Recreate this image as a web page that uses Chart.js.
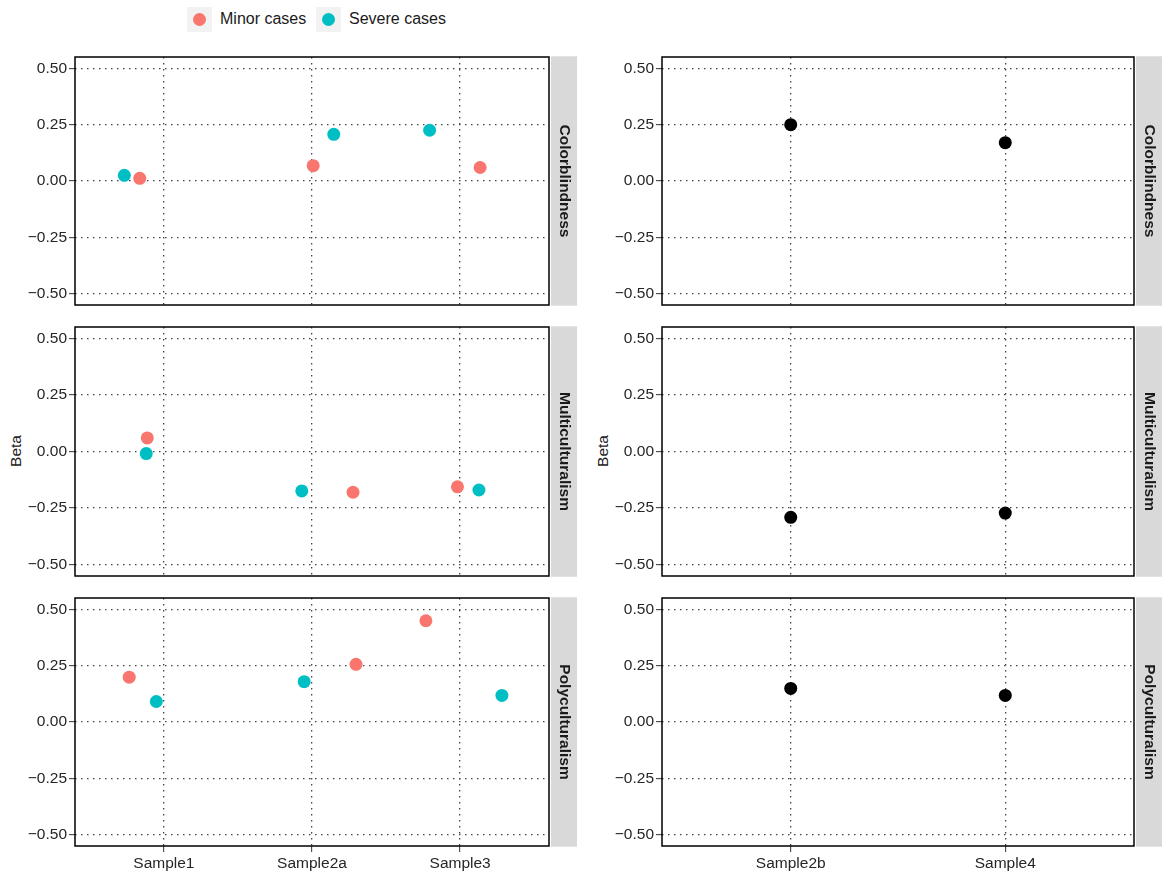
<!DOCTYPE html>
<html>
<head>
<meta charset="utf-8">
<script src="https://cdn.jsdelivr.net/npm/chart.js@4.4.0/dist/chart.umd.min.js"></script>
<style>
  body { margin: 0; background: #fff; }
  #page { position: relative; width: 1169px; height: 875px; overflow: hidden; font-family: "Liberation Sans", Arial, sans-serif; color: #1a1a1a; }
  #page canvas { position: absolute; }
  .key { position: absolute; top: 7px; width: 25px; height: 25px; background: #f2f2f2; }
  .key span { position: absolute; left: 6px; top: 6px; width: 13px; height: 13px; border-radius: 50%; }
  .key-text { position: absolute; top: 9px; font-size: 16px; line-height: 20px; white-space: nowrap; }
  .ytitle { position: absolute; font-size: 15.5px; transform: translate(-50%, -50%) rotate(-90deg); white-space: nowrap; }
</style>
</head>
<body>
<div id="page">
  <div class="key" style="left:187px"><span style="background:#F8766D"></span></div>
  <div class="key-text" style="left:220px">Minor cases</div>
  <div class="key" style="left:316px"><span style="background:#00BFC4"></span></div>
  <div class="key-text" style="left:349px">Severe cases</div>
  <div class="ytitle" style="left:16px; top:451px">Beta</div>
  <div class="ytitle" style="left:603px; top:451px">Beta</div>
</div>
<script>
// facets and categories
const outcomes = ['Colorblindness', 'Multiculturalism', 'Polyculturalism'];
const leftSamples = ['Sample1', 'Sample2a', 'Sample3'];
const rightSamples = ['Sample2b', 'Sample4'];
const yTicks = [-0.5, -0.25, 0, 0.25, 0.5];

// left column: beta per sample, minor vs severe cases
const minorColorblindness = [0.012, 0.068, 0.06];
const severeColorblindness = [0.025, 0.207, 0.225];
const minorMulticulturalism = [0.06, -0.18, -0.156];
const severeMulticulturalism = [-0.009, -0.174, -0.17];
const minorPolyculturalism = [0.199, 0.256, 0.449];
const severePolyculturalism = [0.091, 0.179, 0.118];

// horizontal jitter of each point, in category units
const minorJitterColorblindness = [-0.163, 0.008, 0.135];
const severeJitterColorblindness = [-0.267, 0.147, -0.206];
const minorJitterMulticulturalism = [-0.112, 0.277, -0.018];
const severeJitterMulticulturalism = [-0.119, -0.069, 0.127];
const minorJitterPolyculturalism = [-0.234, 0.297, -0.231];
const severeJitterPolyculturalism = [-0.051, -0.053, 0.282];

// right column: beta per sample
const pooledColorblindness = [0.25, 0.17];
const pooledMulticulturalism = [-0.291, -0.272];
const pooledPolyculturalism = [0.149, 0.118];

const MINOR = '#F8766D';
const SEVERE = '#00BFC4';
const FONT = '"Liberation Sans", Arial, sans-serif';
Chart.defaults.font.family = FONT;

// 面板边框 + 右侧分面标签
const facetStrip = {
  id: 'facetStrip',
  afterDraw(chart, args, opts) {
    const { ctx, chartArea: a } = chart;
    ctx.save();
    ctx.fillStyle = '#d9d9d9';
    ctx.fillRect(a.right + 2, a.top - 0.75, 26, a.bottom - a.top + 1.5);
    ctx.strokeStyle = '#000';
    ctx.lineWidth = 1.5;
    ctx.strokeRect(a.left, a.top, a.right - a.left, a.bottom - a.top);
    ctx.translate(a.right + 15, (a.top + a.bottom) / 2);
    ctx.rotate(Math.PI / 2);
    ctx.fillStyle = '#1a1a1a';
    ctx.font = 'bold 15.5px ' + FONT;
    ctx.textAlign = 'center';
    ctx.textBaseline = 'middle';
    ctx.fillText(opts.label, 0, 0);
    ctx.restore();
  },
};

function points(values, jitter) {
  return values.map((v, i) => ({ x: i + 1 + (jitter ? jitter[i] : 0), y: v }));
}

function fmt(v) {
  return v.toFixed(2).replace('-', '\u2212');
}

const gridBase = {
  color: '#444',
  lineWidth: 1.3,
  tickLength: 6,
  tickColor: '#333',
  tickWidth: 1,
  tickBorderDash: [],
};

function panel(cell) {
  const { boxLeft, boxRight, top, bottom, samples, datasets, label, isBottom } = cell;
  const padTop = 16;
  const axisH = isBottom ? 28 : 0;
  const padBottom = isBottom ? 0 : 16;
  const canvas = document.createElement('canvas');
  const left = boxLeft - 75;
  canvas.width = boxRight + 32 - left;
  canvas.height = bottom - top + padTop + padBottom + axisH;
  canvas.style.left = left + 'px';
  canvas.style.top = top - padTop + 'px';
  document.getElementById('page').appendChild(canvas);

  new Chart(canvas, {
    type: 'scatter',
    data: { datasets },
    options: {
      responsive: false,
      animation: false,
      events: [],
      layout: { padding: { top: padTop, bottom: padBottom, left: 0, right: 32 } },
      plugins: { legend: { display: false }, tooltip: { enabled: false }, facetStrip: { label } },
      scales: {
        x: {
          type: 'linear',
          min: 0.4,
          max: samples.length + 0.6,
          afterBuildTicks: (s) => { s.ticks = samples.map((_, i) => ({ value: i + 1 })); },
          afterFit: (s) => { s.height = axisH; },
          grid: { ...gridBase, drawTicks: isBottom },
          border: { display: false, dash: [1.5, 4.5] },
          ticks: {
            display: isBottom,
            padding: 2,
            color: '#262626',
            font: { size: 15.5 },
            maxRotation: 0,
            autoSkip: false,
            callback: (v) => samples[Math.round(v) - 1],
          },
        },
        y: {
          min: -0.55,
          max: 0.55,
          afterBuildTicks: (s) => { s.ticks = yTicks.map((v) => ({ value: v })); },
          afterFit: (s) => { s.width = 75; },
          grid: { ...gridBase },
          border: { display: false, dash: [1.5, 4.5] },
          ticks: { padding: 2, color: '#262626', font: { size: 15.5 }, callback: fmt },
        },
      },
    },
    plugins: [facetStrip],
  });
}

function dot(data, color) {
  return { data, backgroundColor: color, borderWidth: 0, pointRadius: 6.5, pointHoverRadius: 6.5 };
}

const rows = [
  { top: 57, bottom: 305 },
  { top: 327, bottom: 576 },
  { top: 598, bottom: 846 },
];

const leftSets = [
  [points(minorColorblindness, minorJitterColorblindness), points(severeColorblindness, severeJitterColorblindness)],
  [points(minorMulticulturalism, minorJitterMulticulturalism), points(severeMulticulturalism, severeJitterMulticulturalism)],
  [points(minorPolyculturalism, minorJitterPolyculturalism), points(severePolyculturalism, severeJitterPolyculturalism)],
];
const rightSets = [pooledColorblindness, pooledMulticulturalism, pooledPolyculturalism];

outcomes.forEach((label, r) => {
  const isBottom = r === outcomes.length - 1;
  panel({
    boxLeft: 75, boxRight: 549, ...rows[r], samples: leftSamples, label, isBottom,
    datasets: [dot(leftSets[r][0], MINOR), dot(leftSets[r][1], SEVERE)],
  });
  panel({
    boxLeft: 662, boxRight: 1134, ...rows[r], samples: rightSamples, label, isBottom,
    datasets: [dot(points(rightSets[r]), '#000')],
  });
});
</script>
</body>
</html>
